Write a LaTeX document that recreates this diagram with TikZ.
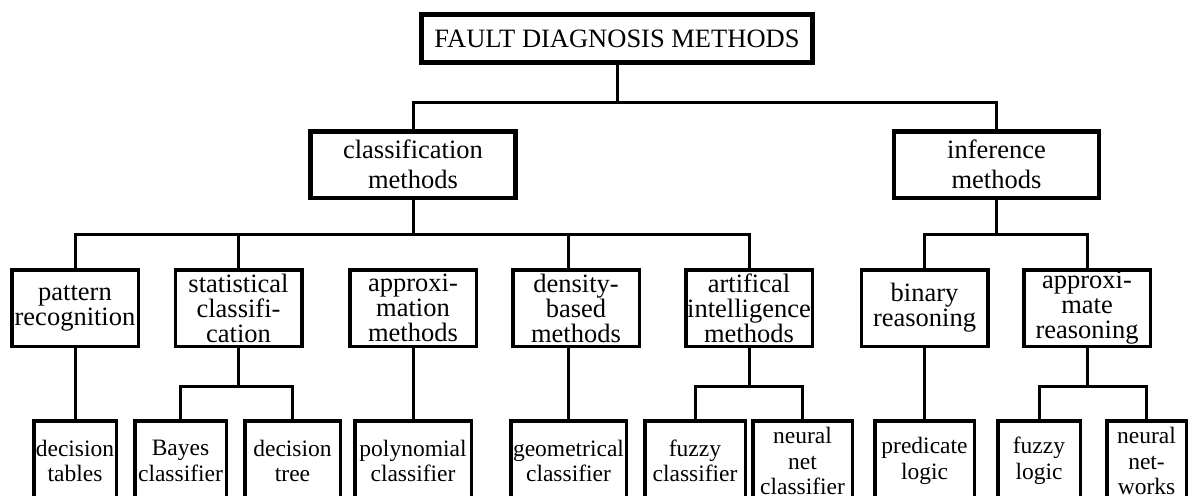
\documentclass[tikz,border=0pt]{standalone}
\usepackage{fontspec}
\setmainfont{Liberation Serif}
\usepackage{tikz}

\begin{document}
\begin{tikzpicture}[x=1pt,y=-1pt,
    rootbox/.style={draw,line width=4.5pt,inner sep=0pt,align=center,
      minimum width=391pt,minimum height=48pt,
      font=\fontsize{26.5}{30}\selectfont},
    groupbox/.style={draw,line width=4.5pt,inner sep=0pt,align=center,
      minimum width=205pt,minimum height=66.5pt,
      font=\fontsize{26.5}{30}\selectfont},
    methbox/.style={draw,line width=3.5pt,inner sep=0pt,align=center,
      minimum width=126.5pt,minimum height=76.5pt,
      font=\fontsize{26.5}{25}\selectfont},
    leafbox/.style={draw,line width=3.5pt,inner sep=0pt,align=center,
      minimum height=80.5pt,font=\fontsize{23.5}{25.5}\selectfont},
    link/.style={line width=3pt}]
    \useasboundingbox (0,0) rectangle (1190,495);
    \clip (0,0) rectangle (1190,495);
    % root and the two groups
    \node[rootbox] (fdm) at (617,38.5) {FAULT DIAGNOSIS METHODS};
    \node[groupbox] (cls) at (413,164.5) {classification\\methods};
    \node[groupbox] (inf) at (996.5,164.5) {inference\\methods};
    % methods
    \node[methbox] (pat) at (75,308) {pattern\\recognition};
    \node[methbox] (sta) at (238.5,308) {statistical\\classifi-\\cation};
    \node[methbox] (apx) at (413,308) {approxi-\\mation\\methods};
    \node[methbox] (den) at (576,308) {density-\\based\\methods};
    \node[methbox] (art) at (749,308) {artifical\\intelligence\\methods};
    \node[methbox] (bin) at (924.5,308) {binary\\reasoning};
    \node[methbox] (are) at (1087,308) {approxi-\\mate\\reasoning};
    % leaves
    \node[leafbox,minimum width=82.5pt] (dtab) at (75,461) {decision\\tables};
    \node[leafbox,minimum width=91.5pt] (bay) at (180.5,461) {Bayes\\classifier};
    \node[leafbox,minimum width=95.5pt] (dtr) at (292.5,461) {decision\\tree};
    \node[leafbox,minimum width=116.5pt] (pol) at (413,461) {polynomial\\classifier};
    \node[leafbox,minimum width=115.5pt] (geo) at (568.5,461) {geometrical\\classifier};
    \node[leafbox,minimum width=100.5pt] (fcl) at (695,461) {fuzzy\\classifier};
    \node[leafbox,minimum width=99.5pt] (ncl) at (802.5,461) {neural\\net\\classifier};
    \node[leafbox,minimum width=99.5pt] (pre) at (924.5,461) {predicate\\logic};
    \node[leafbox,minimum width=82.5pt] (flo) at (1039,461) {fuzzy\\logic};
    \node[leafbox,minimum width=79.5pt] (nnw) at (1146.5,461) {neural\\net-\\works};
    % buses
    \coordinate (bus0) at (617,102);
    \coordinate (bus1) at (413,234);
    \coordinate (bus2) at (996.5,234);
    \coordinate (bus3) at (238.5,386.5);
    \coordinate (bus4) at (749,386.5);
    \coordinate (bus5) at (1087,386.5);
    \draw[link] (fdm.south) -- (bus0);
    \draw[link] (cls.north) |- (bus0) -| (inf.north);
    \draw[link] (cls.south) -- (bus1);
    \draw[link] (pat.north) |- (bus1) -| (art.north);
    \draw[link] (sta.north) -- (sta.north |- bus1);
    \draw[link] (geo.north |- den.north) -- (geo.north |- bus1);
    \draw[link] (inf.south) -- (bus2);
    \draw[link] (bin.north) |- (bus2) -| (are.north);
    \draw[link] (pat.south) -- (dtab.north);
    \draw[link] (apx.south) -- (pol.north);
    \draw[link] (geo.north |- den.south) -- (geo.north);
    \draw[link] (bin.south) -- (pre.north);
    \draw[link] (sta.south) -- (bus3);
    \draw[link] (bay.north) |- (bus3) -| (dtr.north);
    \draw[link] (art.south) -- (bus4);
    \draw[link] (fcl.north) |- (bus4) -| (ncl.north);
    \draw[link] (are.south) -- (bus5);
    \draw[link] (flo.north) |- (bus5) -| (nnw.north);
\end{tikzpicture}
\end{document}
